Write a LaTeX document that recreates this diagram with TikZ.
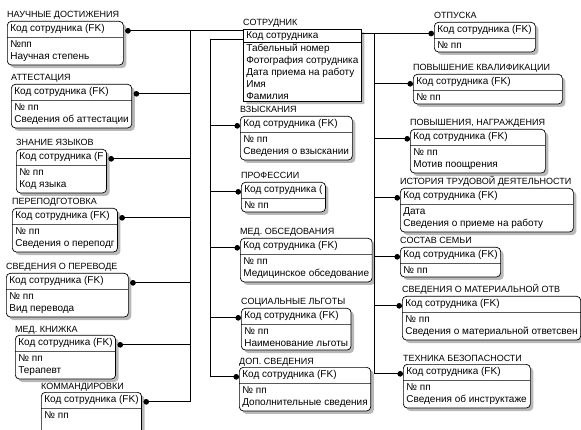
\documentclass[tikz,border=0pt]{standalone}
\usepackage{fontspec}
\setmainfont{Liberation Sans}
\usepackage{tikz}
\usetikzlibrary{
        arrows,
        calc,
        shadows,
        shapes.multipart
    }
\newcommand{\entfont}{\fontsize{10}{12}\selectfont}
\newcommand{\ttlfont}{\fontsize{9}{10}\selectfont}
\tikzset{ent/.style={rectangle split,rectangle split parts=2,rectangle split part align=left,draw,line width=.7pt,rounded corners=4pt,fill=white,drop shadow={shadow xshift=3pt,shadow yshift=-3pt,fill=black!55},minimum width=#1,align=left,anchor=north west,inner xsep=3pt,inner ysep=3pt,font=\entfont}}
\tikzset{ttl/.style={anchor=base west,yshift=3pt,inner sep=0pt,font=\ttlfont}}
\tikzset{rel/.style={line width=.7pt}}

\begin{document}
\begin{tikzpicture}[x=1pt,y=-1pt]
    \useasboundingbox (0,0) rectangle (581,430);
    % left column
    \node[ent=116,label={[ttl]north west:НАУЧНЫЕ ДОСТИЖЕНИЯ}] (nauk) at (7,21)
        {Код сотрудника (FK)\nodepart{two}№пп\\Научная степень};
    \node[ent=111,label={[ttl]north west:АТТЕСТАЦИЯ}] (att) at (11,84)
        {Код сотрудника (FK)\nodepart{two}№ пп\\Сведения об аттестации};
    \node[ent=83,label={[ttl]north west:ЗНАНИЕ ЯЗЫКОВ}] (yaz) at (16,149)
        {Код сотрудника (F\nodepart{two}№ пп\\Код языка};
    \node[ent=96,label={[ttl]north west:ПЕРЕПОДГОТОВКА}] (perep) at (12,208)
        {Код сотрудника (FK)\nodepart{two}№ пп\\Сведения о переподг};
    \node[ent=122,label={[ttl]north west:СВЕДЕНИЯ О ПЕРЕВОДЕ}] (perev) at (6,273)
        {Код сотрудника (FK)\nodepart{two}№ пп\\Вид перевода};
    \node[ent=93,label={[ttl]north west:МЕД. КНИЖКА}] (med) at (15,335)
        {Код сотрудника (FK)\nodepart{two}№ пп\\Терапевт};
    \node[ent=99,label={[ttl]north west:КОММАНДИРОВКИ}] (kom) at (41,392)
        {Код сотрудника (FK)\nodepart{two}№ пп\\\mbox{}};
    % middle column
    \node[ent=105,sharp corners,inner ysep=1.5pt,label={[ttl]north west:СОТРУДНИК}] (sotr) at (243,29)
        {Код сотрудника\nodepart{two}Табельный номер\\Фотография сотрудника\\Дата приема на работу\\Имя\\Фамилия};
    \node[ent=112,label={[ttl]north west:ВЗЫСКАНИЯ}] (vz) at (240,116)
        {Код сотрудника (FK)\nodepart{two}№ пп\\Сведения о взыскании};
    \node[ent=75,label={[ttl]north west:ПРОФЕССИИ}] (prof) at (241,182)
        {Код сотрудника (\nodepart{two}№ пп};
    \node[ent=118,label={[ttl]north west:МЕД. ОБСЕДОВАНИЯ}] (medo) at (240,238)
        {Код сотрудника (FK)\nodepart{two}№ пп\\Медицинское обседование};
    \node[ent=104,label={[ttl]north west:СОЦИАЛЬНЫЕ ЛЬГОТЫ}] (soc) at (241,308)
        {Код сотрудника (FK)\nodepart{two}№ пп\\Наименование льготы};
    \node[ent=118,label={[ttl]north west:ДОП. СВЕДЕНИЯ}] (dop) at (239,367)
        {Код сотрудника (FK)\nodepart{two}№ пп\\Дополнительные сведения};
    % right column
    \node[ent=101,label={[ttl]north west:ОТПУСКА}] (otp) at (434,22)
        {Код сотрудника (FK)\nodepart{two}№ пп};
    \node[ent=149,label={[ttl]north west:ПОВЫШЕНИЕ КВАЛИФИКАЦИИ}] (pk) at (413,74)
        {Код сотрудника (FK)\nodepart{two}№ пп};
    \node[ent=135,label={[ttl]north west:{ПОВЫШЕНИЯ, НАГРАЖДЕНИЯ}}] (pn) at (410,129)
        {Код сотрудника (FK)\nodepart{two}№ пп\\Мотив поощрения};
    \node[ent=173,label={[ttl]north west:ИСТОРИЯ ТРУДОВОЙ ДЕЯТЕЛЬНОСТИ}] (ist) at (400,188)
        {Код сотрудника (FK)\nodepart{two}Дата\\Сведения о приеме на работу};
    \node[ent=89,label={[ttl]north west:СОСТАВ СЕМЬИ}] (sem) at (400,247)
        {Код сотрудника (FK)\nodepart{two}№ пп};
    \node[ent=168,label={[ttl]north west:СВЕДЕНИЯ О МАТЕРИАЛЬНОЙ ОТВ}] (mat) at (402,296)
        {Код сотрудника (FK)\nodepart{two}№ пп\\Сведения о материальной ответсвен};
    \node[ent=127,label={[ttl]north west:ТЕХНИКА БЕЗОПАСНОСТИ}] (tex) at (403,364)
        {Код сотрудника (FK)\nodepart{two}№ пп\\Сведения об инструктаже};

    % relationships
    \coordinate (lbus) at (190,0);
    \coordinate (mbus) at (210,0);
    \coordinate (rbus) at (374,0);
    \coordinate (sotr-l) at ($(sotr.north west)!.8!(sotr.text split west)$);
    \coordinate (sotr-r) at ($(sotr.north east)!.35!(sotr.text split east)$);
    \foreach \n in {nauk,att,yaz,perep,perev,med,kom}
        \coordinate (\n-k) at ($(\n.north east)!.6!(\n.text split east)+(1.5,0)$);
    \draw[rel,*-] (nauk-k) -- (nauk-k -| sotr.west);
    \foreach \n in {att,yaz,perep,perev,med,kom}
        \draw[rel,*-] (\n-k) -- (\n-k -| lbus);
    \draw[rel] (nauk-k -| lbus) -- (kom-k -| lbus);
    \foreach \n in {vz,prof,medo,soc,dop}{
        \coordinate (\n-k) at ($(\n.north west)!.6!(\n.text split west)$);
        \draw[rel,-*] (\n-k -| mbus) -- (\n-k);
    }
    \draw[rel] (sotr-l) -| (dop-k -| mbus);
    \draw[rel,-*] (sotr-r) -- (sotr-r -| otp.west);
    \foreach \n in {pk,pn,ist,sem,mat,tex}{
        \coordinate (\n-k) at ($(\n.north west)!.6!(\n.text split west)$);
        \draw[rel,-*] (\n-k -| rbus) -- (\n-k);
    }
    \draw[rel] (sotr-r -| rbus) -- (tex-k -| rbus);
\end{tikzpicture}
\end{document}
